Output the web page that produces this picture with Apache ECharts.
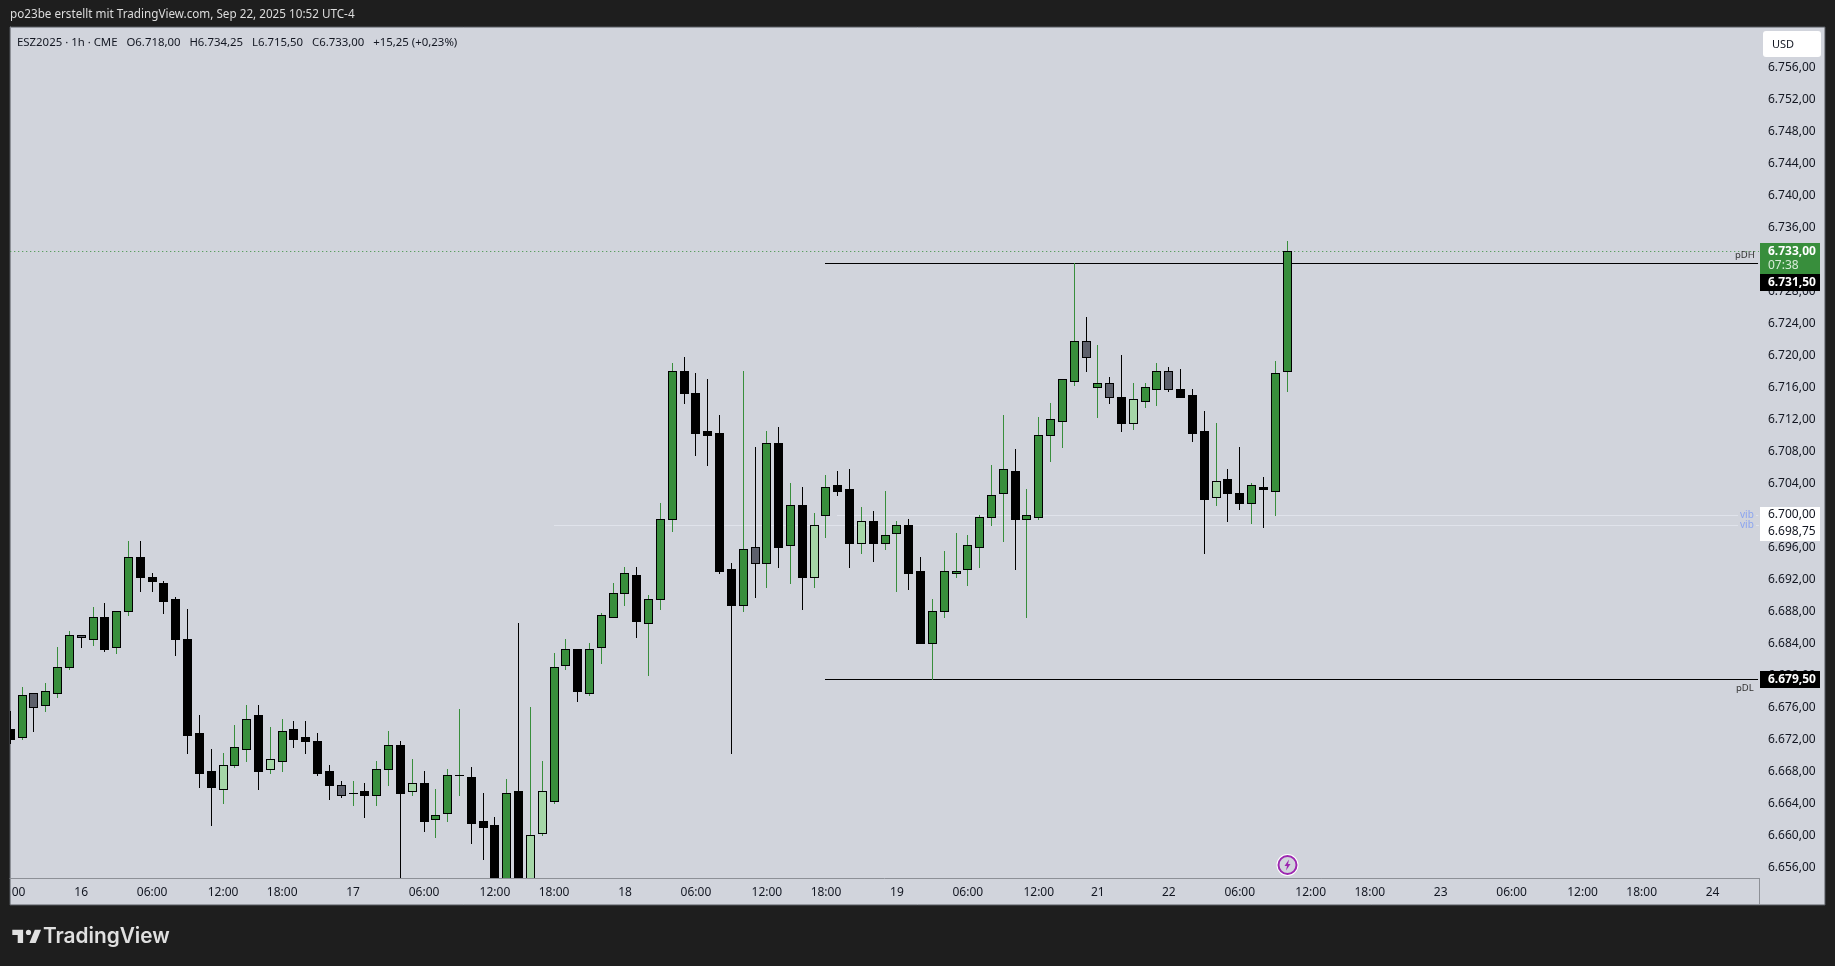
<!DOCTYPE html>
<html>
<head>
<meta charset="utf-8">
<style>html,body{margin:0;padding:0;background:#1e1e1e}#chart{width:1835px;height:966px}</style>
<script src="https://cdn.jsdelivr.net/npm/echarts@6/dist/echarts.min.js"></script>
</head>
<body>
<div id="chart"></div>
<script>
const opens = [6673.25,6672.25,6677.75,6676.25,6677.75,6681,6685,6684.5,6687.25,6683.5,6688,6694.75,6692.25,6691.5,6689.5,6684.5,6672.75,6668,6665.75,6668.75,6670.75,6675,6668.25,6669.25,6673.25,
6672.25,6671.75,6668,6666.25,6665.25,6665.5,6665,6668.25,6671.25,6665.5,6666.5,6662,6662.75,6667.5,6667.25,6661.75,6661.25,6654,6665.5,6652,6660.25,6664.25,6681.25,6683.25,6677.75,
6683.5,6687.25,6690.25,6692.5,6686.5,6689.5,6699.5,6718,6715.25,6710.5,6710.25,6693.25,6688.75,6696,6694,6709,6696.25,6701.25,6692.25,6700,6703.75,6703.25,6696.5,6699.25,6696.5,
6697.75,6698.75,6693,6684,6688,6692.75,6693.25,6696,6699.75,6702.75,6705.5,6699.5,6699.75,6710,6711.75,6716.75,6721.75,6716,6716.5,6714.75,6711.5,6714.25,6715.75,6718,6715.75,
6715,6710.5,6702.25,6704.5,6702.75,6701.5,6703.5,6703,6718];
const highs = [6675.5,6678.5,6677.75,6679,6683.5,6685.5,6685,6688.5,6689,6688,6696.75,6696.75,6692.75,6691.75,6689.75,6688.25,6675,6670.75,6670.25,6673.75,6676.25,6676.25,6673.5,6674.5,6674.25,
6674.25,6672.75,6668.75,6666.75,6666.75,6666.5,6669.25,6673,6671.75,6669.5,6668,6665.75,6668.25,6675.75,6668.5,6665.25,6662.25,6667,6686.5,6676,6669.25,6682.75,6684.5,6683.25,6684,
6687.75,6691.5,6693.5,6693.5,6690,6701.5,6719,6719.75,6717.75,6717,6712.5,6694,6718,6708.5,6710.5,6711,6704,6703.5,6700.25,6705,6705.5,6705.75,6701,6700.5,6703,
6699.25,6699.5,6694.75,6689.5,6695.5,6697.75,6697.5,6700,6706.25,6712.5,6708.25,6703.25,6712.25,6714,6717,6731.5,6724.75,6721.25,6717.25,6720,6716.5,6716.5,6719,6718.5,6718.25,
6715.75,6713,6711.5,6705.75,6708.5,6704,6704.75,6719.25,6734.25];
const lows = [6671.5,6672,6673,6675.5,6677.25,6680.75,6683.5,6683.75,6683,6682.75,6687.5,6690.5,6690.5,6687.75,6682.5,6670.25,6666,6661.25,6664,6668.5,6669.25,6665.75,6667.75,6668,6671,
6670.25,6667.5,6664.5,6664.75,6663.75,6662.25,6663.75,6666.25,6654,6665,6660.5,6659.75,6661.75,6665,6659,6657,6653,6653,6653,6651,6660,6664,6680.75,6676.75,6677.5,
6681.5,6687.25,6688.75,6684.75,6680,6688.25,6698,6714,6707.5,6706.25,6692.75,6670.25,6688,6689.75,6691,6693.5,6691.5,6688.25,6691,6697.25,6702.5,6693.5,6695.25,6694.25,6695.75,
6690.5,6690.75,6684,6679.5,6687.25,6692.25,6691.25,6693.5,6698.75,6696.75,6693.25,6687.25,6699.5,6706.75,6708.5,6716.25,6718,6712.25,6714,6710.5,6710.75,6713.5,6713.75,6715.5,6714.75,
6709.25,6695.25,6701.25,6699.25,6700.75,6699,6698.5,6700,6715.5];
const closes = [6672,6677.5,6676,6678,6681,6685,6684.75,6687.25,6683.25,6688,6694.75,6692.25,6691.75,6689.25,6684.5,6672.5,6667.75,6666,6668.75,6671,6674.5,6668,6669.5,6673,6672,
6671.75,6667.75,6666.25,6665,6665.25,6665,6668.25,6671.25,6665.25,6666.5,6661.75,6662.5,6667.5,6667.5,6661.5,6661,6654,6665.25,6654,6660,6665.5,6681,6683.25,6678,6683.25,
6687.5,6690.25,6692.75,6686.75,6689.5,6699.5,6718,6715.25,6710.25,6710,6693,6688.75,6695.75,6694,6709,6696,6701.25,6692.25,6698.75,6703.5,6703,6696.5,6699.25,6696.5,6697.5,
6698.75,6692.75,6684,6688,6693,6693,6696.25,6699.75,6702.5,6705.75,6699.5,6700,6710,6712,6717,6721.75,6719.75,6716.5,6714.75,6711.5,6714.5,6716,6718,6715.75,6714.75,
6710.25,6702,6704.25,6702.75,6701.5,6703.75,6703.25,6717.75,6733];
const slateBars = [2,6,28,63,91,93,98];
const lightBars = [18,22,34,44,45,68,72,95,102];
const priceTicks = [6656,6660,6664,6668,6672,6676,6680,6684,6688,6692,6696,6700,6704,6708,6712,6716,6720,6724,6728,6732,6736,6740,6744,6748,6752,6756];
const timeTickBars = [0.7,6,12,18,23,29,35,41,46,52,58,64,69,75,81,87,92,98,104,110,115,121,127,133,138,144];
const timeTickLabels = ['00','16','06:00','12:00','18:00','17','06:00','12:00','18:00','18','06:00','12:00','18:00','19','06:00','12:00','21','22','06:00','12:00','18:00','23','06:00','12:00','18:00','24'];
const levelNames = ['pDH','pDL','vib','vib','last'];
const levelPrices = [6731.5,6679.5,6700,6698.75,6733];
const levelStartBars = [69,69,70,46,0];

const bars = opens.map((o,i)=>[i,o,highs[i],lows[i],closes[i]]);
const levels = levelPrices.map((p,i)=>[levelStartBars[i],p,levelNames[i]]);
const GREEN='#388e3c',LIGHT='#a5d6a7',SLATE='#5d606b',BLACK='#000000';
const PANEL='#d1d4dc',DARK='#1e1e1e',EDGE='#8d9097';
const FONT='"Noto Sans", sans-serif';
const xMin=-0.0211,xMax=147.9234;
const fmt=v=>{const s=v.toFixed(2).replace('.',',');return s[0]+'.'+s.slice(1);};

const chart=echarts.init(document.getElementById('chart'),null,{renderer:'canvas'});

function renderCandle(params,api){
  const k=api.value(0),o=api.value(1),h=api.value(2),l=api.value(3),c=api.value(4);
  const X=Math.floor(api.coord([k,o])[0]);
  const yOf=v=>Math.round(api.coord([k,v])[1]);
  const up=c>=o;
  const yh=yOf(h),yl=yOf(l),yt=yOf(Math.max(o,c)),yb=yOf(Math.min(o,c));
  let fill=up?GREEN:BLACK;
  if(slateBars.includes(k))fill=SLATE;
  if(lightBars.includes(k))fill=LIGHT;
  const wick=up?GREEN:BLACK;
  const bh=yb-yt+1;
  const kids=[
    {type:'rect',shape:{x:X,y:yh,width:1,height:yl-yh+1},style:{fill:wick}},
    {type:'rect',shape:{x:X-4,y:yt,width:9,height:bh},style:{fill:BLACK}}
  ];
  if(fill!==BLACK&&bh>2)kids.push({type:'rect',shape:{x:X-3,y:yt+1,width:7,height:bh-2},style:{fill:fill}});
  return {type:'group',children:kids};
}
function renderLevel(params,api){
  const s=api.value(0),p=api.value(1),name=levelNames[params.dataIndex];
  const a=api.coord([s,p]),b=api.coord([xMax,p]);
  const Y=Math.round(a[1]);
  if(name==='last'){
    return {type:'line',shape:{x1:a[0],y1:Y+0.5,x2:b[0],y2:Y+0.5},style:{stroke:GREEN,lineWidth:1,lineDash:[1,3]}};
  }
  if(name==='vib'){
    return {type:'rect',shape:{x:Math.floor(a[0]),y:Y,width:b[0]-a[0],height:1},style:{fill:'#e0e3eb'}};
  }
  return {type:'rect',shape:{x:Math.floor(a[0]),y:Y,width:b[0]-a[0],height:1},style:{fill:BLACK}};
}
const txt=(x,y,text,o={})=>({type:'text',z:100,x,y,style:Object.assign({text,fill:'#131722',font:'12px '+FONT,textVerticalAlign:'middle',textBaseline:'middle'},o)});
const box=(x,y,w,h,fill,z=90,r=0)=>({type:'rect',z,shape:{x,y,width:w,height:h,r},style:{fill}});
const logoPart=(points)=>({type:'polygon',z:60,x:10.5,y:924.5,scaleX:0.9,scaleY:0.875,shape:{points},style:{fill:'#e0e0e0'}});

chart.setOption({
  animation:false,
  backgroundColor:DARK,
  grid:{left:10,top:27,width:1749,height:851,containLabel:false},
  xAxis:{type:'value',min:xMin,max:xMax,splitLine:{show:false},
    axisLine:{show:true,onZero:false,lineStyle:{color:EDGE,width:1}},
    axisTick:{show:false},
    axisLabel:{customValues:timeTickBars,hideOverlap:false,showMinLabel:true,showMaxLabel:true,color:'#131722',fontFamily:'"Noto Sans", sans-serif',fontSize:12,margin:9,
      formatter:(v)=>{const i=timeTickBars.indexOf(v);return i>=0?timeTickLabels[i]:'';}}},
  yAxis:{type:'value',position:'right',min:6654.66,max:6761.04,scale:true,splitLine:{show:false},
    axisLine:{show:true,lineStyle:{color:EDGE,width:1}},
    axisTick:{show:false},
    axisLabel:{customValues:priceTicks,hideOverlap:false,color:'#131722',fontFamily:'"Noto Sans", sans-serif',fontSize:12,margin:9,padding:[0,0,3,0],formatter:v=>fmt(v)}},
  series:[
    {type:'custom',name:'levels',clip:true,z:2,coordinateSystem:'cartesian2d',renderItem:renderLevel,data:levels,encode:{x:0,y:1},silent:true},
    {type:'custom',name:'ESZ2025',clip:true,z:3,coordinateSystem:'cartesian2d',renderItem:renderCandle,data:bars,encode:{x:0,y:[1,2,3,4]},silent:true}
  ],
  graphic:{elements:[
    {type:'rect',z:-10,zlevel:0,shape:{x:10,y:27,width:1815,height:878},style:{fill:PANEL,stroke:'#55585f',lineWidth:1}},
    {type:'rect',z:1,shape:{x:1759,y:878,width:1,height:27},style:{fill:EDGE}},
    txt(10,15,'po23be erstellt mit TradingView.com, Sep 22, 2025 10:52 UTC-4',{fill:'#dcdcdc',font:'11.7px '+FONT}),
    txt(17,42.5,'ESZ2025 · 1h · CME   O6.718,00   H6.734,25   L6.715,50   C6.733,00   +15,25 (+0,23%)',{fill:'#131722',font:'11.4px '+FONT}),
    box(1763,31,58,26,'#ffffff',90,3),
    txt(1772,45,'USD',{font:'11px '+FONT}),
    box(1760,243,60,31,GREEN),
    txt(1768,251.5,'6.733,00',{fill:'#ffffff',font:'bold 12px '+FONT}),
    txt(1768,265.5,'07:38',{fill:'#d7ecd8'}),
    box(1760,274,60,17,BLACK),
    txt(1768,282.5,'6.731,50',{fill:'#ffffff',font:'bold 12px '+FONT}),
    box(1760,507,60,34,'#ffffff'),
    txt(1768,515,'6.700,00'),
    txt(1768,532,'6.698,75'),
    box(1760,671,60,17,BLACK),
    txt(1768,679.5,'6.679,50',{fill:'#ffffff',font:'bold 12px '+FONT}),
    txt(1735,255,'pDH',{font:'9.5px '+FONT,fill:'#333333'}),
    txt(1736,688,'pDL',{font:'9.5px '+FONT,fill:'#333333'}),
    box(1738,513,18,6,PANEL,50),
    box(1738,522,18,6,PANEL,50),
    txt(1740,515.5,'vib',{font:'10px '+FONT,fill:'#8ba4f0'}),
    txt(1740,525.5,'vib',{font:'10px '+FONT,fill:'#8ba4f0'}),
    {type:'circle',z:60,shape:{cx:1287.5,cy:865,r:11},style:{fill:'#ffffff'}},
    {type:'circle',z:61,shape:{cx:1287.5,cy:865,r:9},style:{fill:PANEL,stroke:'#9c27b0',lineWidth:2}},
    {type:'polygon',z:62,shape:{points:[[1289,859.5],[1284.5,866],[1287,866],[1286,870.5],[1290.5,864],[1288,864]]},style:{fill:'#9c27b0'}},
    logoPart([[2,6],[14,6],[14,21],[8,21],[8,12],[2,12]]),
    logoPart([[28,21],[21,21],[27,6],[34,6]]),
    {type:'circle',z:60,shape:{cx:28.5,cy:932.4,r:2.6},style:{fill:'#e0e0e0'}},
    txt(43,936.5,'TradingView',{fill:'#e0e0e0',font:'600 20.8px Inter, '+FONT})
  ]}
});
</script>
</body>
</html>
